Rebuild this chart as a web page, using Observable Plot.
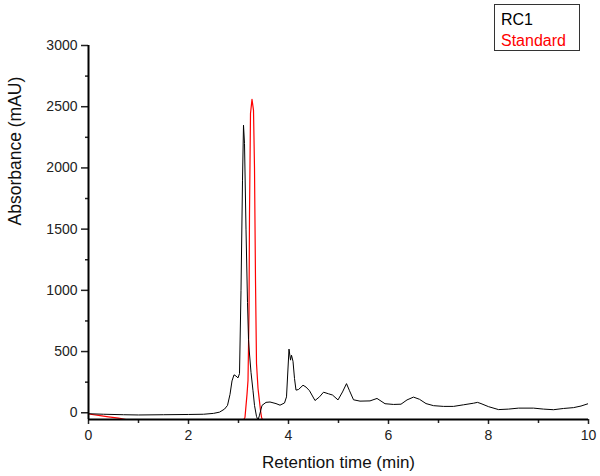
<!DOCTYPE html>
<html>
<head>
<meta charset="utf-8">
<script src="https://cdn.jsdelivr.net/npm/d3@7"></script>
<script src="https://cdn.jsdelivr.net/npm/@observablehq/plot@0.6"></script>
<style>
  html, body { margin: 0; padding: 0; background: #fff; }
  #wrap { position: relative; width: 600px; height: 476px; font-family: "Liberation Sans", Arial, sans-serif; }
  #legend { position: absolute; left: 494px; top: 4px; width: 86px; height: 47px; border: 1px solid #333; box-sizing: border-box; background: #fff; }
  #legend div { position: absolute; left: 6px; font-size: 16px; line-height: 16px; }
</style>
</head>
<body>
<div id="wrap">
  <div id="chart"></div>
  <div id="legend">
    <div id="lg1" style="top:7px;color:#000">RC1</div>
    <div id="lg2" style="top:28px;color:#ff0000">Standard</div>
  </div>
</div>
<script>
// Series names
const seriesNames = ["RC1", "Standard"];
// RC1 chromatogram: retention time (min) and absorbance (mAU)
const rc1Time = [0, 0.3, 0.7, 1.0, 1.5, 2.0, 2.3, 2.5, 2.62, 2.72, 2.78, 2.83, 2.87, 2.91, 2.95, 2.99, 3.02, 3.05, 3.08, 3.10, 3.12, 3.15, 3.18, 3.20, 3.22, 3.25, 3.29, 3.32, 3.36, 3.39, 3.42, 3.47, 3.55, 3.63, 3.75, 3.83, 3.92, 3.96, 4.01, 4.04, 4.06, 4.09, 4.12, 4.15, 4.20, 4.29, 4.35, 4.42, 4.53, 4.62, 4.70, 4.80, 4.88, 4.99, 5.08, 5.16, 5.22, 5.30, 5.43, 5.63, 5.77, 5.93, 6.10, 6.25, 6.37, 6.50, 6.62, 6.75, 6.90, 7.10, 7.30, 7.50, 7.70, 7.78, 7.85, 8.0, 8.2, 8.4, 8.6, 8.9, 9.1, 9.3, 9.5, 9.7, 9.85, 10.0];
const rc1Abs = [-8, -12, -16, -18, -16, -14, -12, -5, 5, 30, 60, 150, 260, 310, 300, 285, 320, 1000, 1900, 2349, 2200, 1500, 900, 600, 480, 330, 180, 60, -30, -60, -20, 60, 85, 88, 75, 62, 80, 130, 520, 430, 470, 420, 280, 185, 190, 225, 210, 180, 100, 130, 168, 155, 145, 105, 170, 238, 180, 106, 95, 97, 117, 74, 68, 70, 105, 128, 110, 75, 58, 52, 52, 65, 78, 85, 75, 50, 26, 30, 38, 38, 30, 25, 35, 42, 55, 75];
// Standard chromatogram
const stdTime = [0, 0.2, 0.4, 0.6, 0.75, 0.85, 3.08, 3.13, 3.17, 3.19, 3.21, 3.22, 3.24, 3.27, 3.30, 3.32, 3.34, 3.36, 3.39, 3.41, 3.44, 3.46, 3.50];
const stdAbs = [-10, -22, -33, -43, -55, -80, -80, -36, 150, 264, 811, 1628, 2445, 2560, 2470, 2000, 1081, 403, 200, 128, 20, -36, -80];
// Axis ticks
const xMajorTicks = [0, 2, 4, 6, 8, 10];
const xMinorTicks = [1, 3, 5, 7, 9];
const yMajorTicks = [0, 500, 1000, 1500, 2000, 2500, 3000];
const yMinorTicks = [250, 750, 1250, 1750, 2250, 2750];
const xTitle = "Retention time (min)";
const yTitle = "Absorbance (mAU)";

const rc1 = rc1Time.map((t, i) => ({t, v: rc1Abs[i]}));
const std = stdTime.map((t, i) => ({t, v: stdAbs[i]}));

const chart = Plot.plot({
  width: 600,
  height: 476,
  marginLeft: 88,
  marginRight: 12,
  marginTop: 45,
  marginBottom: 57,
  style: {fontFamily: "'Liberation Sans', Arial, sans-serif", fontSize: "14px", background: "#fff", color: "#222"},
  x: {domain: [0, 10]},
  y: {domain: [-55, 3000]},
  marks: [
    Plot.axisX({ticks: xMinorTicks, tickSize: 4, tickFormat: () => "", strokeWidth: 1.5, label: null}),
    Plot.axisX({ticks: xMajorTicks, tickSize: 5, tickPadding: 6, strokeWidth: 1.5, label: null, fontSize: 14}),
    Plot.axisY({ticks: yMinorTicks, tickSize: 3, tickFormat: () => "", strokeWidth: 1.5, label: null}),
    Plot.axisY({ticks: yMajorTicks, tickSize: 7, tickPadding: 4, strokeWidth: 1.5, label: null, fontSize: 14, tickFormat: d3.format("d")}),
    Plot.line(std, {x: "t", y: "v", stroke: "#ff0000", strokeWidth: 1.2, clip: true}),
    Plot.line(rc1, {x: "t", y: "v", stroke: "#000", strokeWidth: 1, clip: true}),
    Plot.ruleX([0], {stroke: "#000", strokeWidth: 2}),
    Plot.ruleY([-55], {stroke: "#000", strokeWidth: 2}),
    Plot.text([xTitle], {frameAnchor: "bottom", dy: 48, fontSize: 17, fill: "#111", text: d => d}),
    Plot.text([yTitle], {frameAnchor: "left", dx: -73, dy: -7, rotate: -90, fontSize: 17.5, fill: "#111", text: d => d})
  ]
});
document.getElementById("chart").appendChild(chart);
document.getElementById("lg1").textContent = seriesNames[0];
document.getElementById("lg2").textContent = seriesNames[1];
</script>
</body>
</html>
